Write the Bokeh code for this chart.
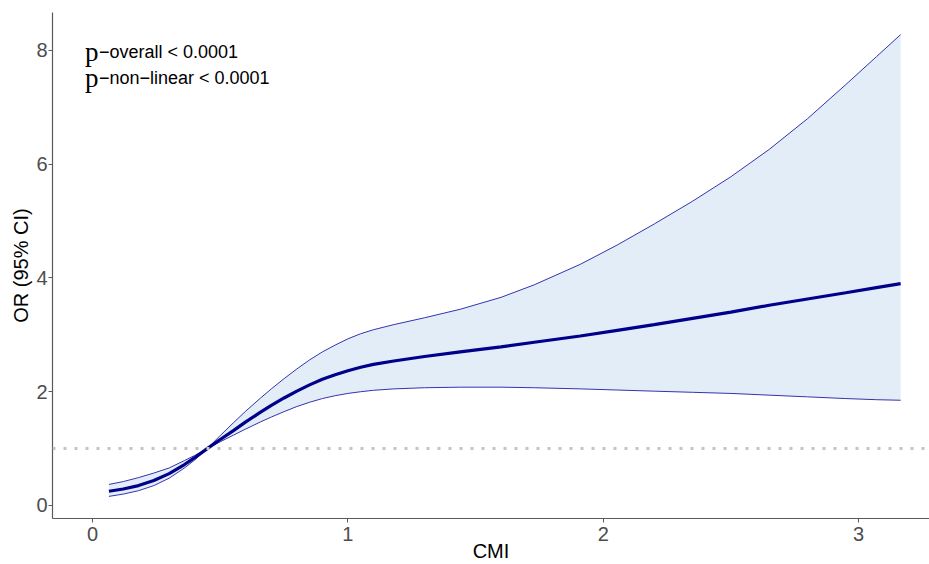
from bokeh.plotting import figure
from bokeh.models import Range1d, Span, Label, FixedTicker
from bokeh.embed import file_html
from bokeh.resources import INLINE

# ---- data ----
cmi = [0.064, 0.12, 0.18, 0.24, 0.30, 0.36, 0.40, 0.449, 0.50, 0.553, 0.60,
       0.658, 0.70, 0.75, 0.80, 0.85, 0.90, 0.95, 1.00, 1.05, 1.10, 1.18,
       1.30, 1.44, 1.60, 1.73, 1.91, 2.055, 2.20, 2.35, 2.50, 2.65, 2.80,
       2.95, 3.07, 3.165]
or_est = [0.25, 0.29, 0.35, 0.44, 0.56, 0.72, 0.84, 1.00, 1.16, 1.32, 1.47,
          1.64, 1.76, 1.89, 2.01, 2.12, 2.22, 2.30, 2.37, 2.43, 2.48, 2.54,
          2.62, 2.70, 2.79, 2.87, 2.98, 3.08, 3.18, 3.29, 3.40, 3.52, 3.63,
          3.74, 3.83, 3.90]
or_upper = [0.37, 0.42, 0.49, 0.57, 0.66, 0.79, 0.88, 1.00, 1.23, 1.46, 1.66,
            1.89, 2.05, 2.23, 2.40, 2.56, 2.70, 2.82, 2.93, 3.02, 3.09, 3.18,
            3.30, 3.45, 3.66, 3.88, 4.24, 4.58, 4.95, 5.35, 5.78, 6.26, 6.80,
            7.40, 7.89, 8.28]
or_lower = [0.16, 0.20, 0.26, 0.35, 0.48, 0.66, 0.80, 1.00, 1.12, 1.24, 1.345,
            1.47, 1.555, 1.65, 1.74, 1.815, 1.88, 1.93, 1.97, 2.00, 2.025, 2.05,
            2.07, 2.08, 2.08, 2.07, 2.05, 2.03, 2.01, 1.99, 1.97, 1.94, 1.91,
            1.88, 1.86, 1.85]
ref_line = 1.0
x_ticks = [0, 1, 2, 3]
y_ticks = [0, 2, 4, 6, 8]
annot_lines = ["\u2212overall < 0.0001", "\u2212non\u2212linear < 0.0001"]

SANS = "Liberation Sans"
SERIF = "Liberation Serif"

p = figure(width=929, height=564, output_backend="svg", toolbar_location=None,
           x_range=Range1d(-0.157, 3.278), y_range=Range1d(-0.229, 8.668),
           min_border_left=52, min_border_right=0, min_border_top=12,
           min_border_bottom=46)
p.outline_line_color = None
p.xgrid.visible = False
p.ygrid.visible = False
p.background_fill_color = "white"
p.border_fill_color = "white"

# CI band
p.varea(x=cmi, y1=or_lower, y2=or_upper, fill_color="#E3EDF8")
p.line(cmi, or_upper, line_color="#3434AE", line_width=1)
p.line(cmi, or_lower, line_color="#3434AE", line_width=1)
# reference line
p.add_layout(Span(location=ref_line, dimension="width", line_color="#C4C4C4",
                  line_width=3, line_dash="3 8"))
# estimate
p.line(cmi, or_est, line_color="#00008B", line_width=3.2)

# annotations
for i, t in enumerate(annot_lines):
    yy = 7.98 - i * 0.46
    p.add_layout(Label(x=-0.03, y=yy, text="p", text_font=SERIF,
                       text_font_size="27px", text_color="black",
                       text_baseline="alphabetic"))
    p.add_layout(Label(x=0.025, y=yy, text=t, text_font=SANS,
                       text_font_size="18px", text_color="black",
                       text_baseline="alphabetic"))

for ax in (p.xaxis[0], p.yaxis[0]):
    ax.axis_line_color = "#5A5A5A"
    ax.axis_line_width = 1.2
    ax.major_tick_line_color = "#5A5A5A"
    ax.major_tick_out = 4
    ax.major_tick_in = 0
    ax.minor_tick_line_color = None
    ax.major_label_text_font = SANS
    ax.major_label_text_font_size = "20px"
    ax.major_label_text_color = "#4D4D4D"
    ax.axis_label_text_font = SANS
    ax.axis_label_text_font_size = "20px"
    ax.axis_label_text_font_style = "normal"
    ax.axis_label_text_color = "black"

p.xaxis.ticker = FixedTicker(ticks=x_ticks)
p.yaxis.ticker = FixedTicker(ticks=y_ticks)
p.xaxis.axis_label = "CMI"
p.yaxis.axis_label = "OR (95% CI)"
p.xaxis.major_label_standoff = 4
p.xaxis.axis_label_standoff = -4
p.yaxis.major_label_standoff = 1
p.yaxis.axis_label_standoff = 1

open("out.html", "w").write(file_html(p, INLINE))
